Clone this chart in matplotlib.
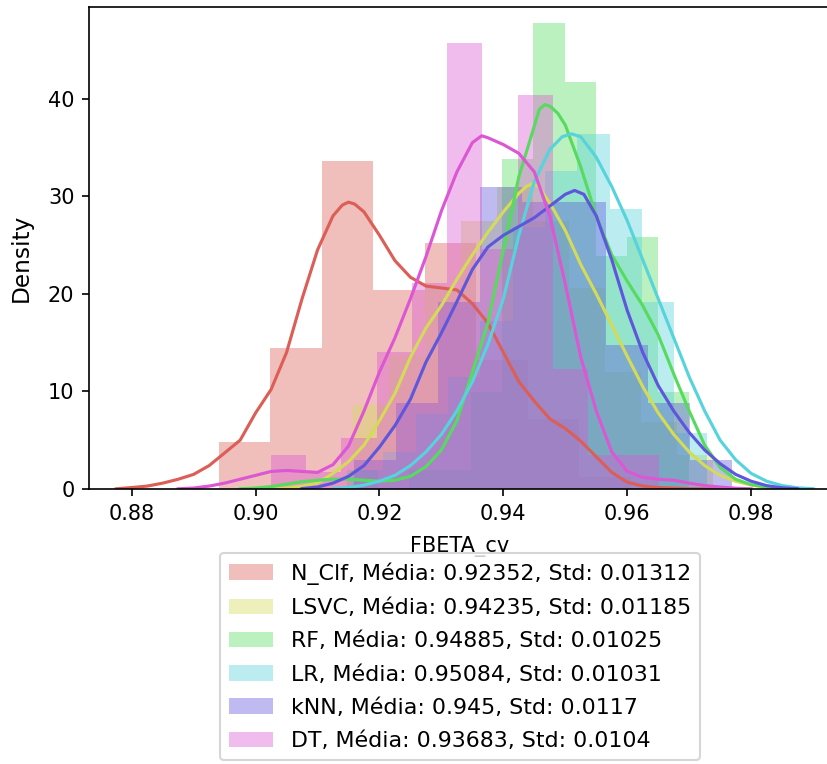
import numpy as np
import matplotlib
matplotlib.use("Agg")
import matplotlib.pyplot as plt

# F-beta scores from cross-validation, 100 folds per model
N_FOLDS = 100

models = ["N_Clf", "LSVC", "RF", "LR", "kNN", "DT"]
means = ["0.92352", "0.94235", "0.94885", "0.95084", "0.945", "0.93683"]
stds = ["0.01312", "0.01185", "0.01025", "0.01031", "0.0117", "0.0104"]

# histogram bins (first edge, bin width) and fold counts per bin
nclf_bins = (0.89405, 0.00832)
nclf_counts = [4, 12, 28, 17, 21, 11, 6, 1]
lsvc_bins = (0.9157, 0.00582)
lsvc_counts = [5, 8, 12, 16, 18, 16, 12, 7, 4, 2]
rf_bins = (0.91468, 0.00503)
rf_counts = [1, 0, 1, 1, 5, 17, 24, 21, 12, 13, 5]
lr_bins = (0.91538, 0.00522)
lr_counts = [1, 2, 4, 6, 9, 14, 17, 19, 15, 10, 3]
knn_bins = (0.91586, 0.00679)
knn_counts = [2, 6, 13, 21, 20, 20, 10, 6, 2]
dt_bins = (0.90246, 0.00569)
dt_counts = [2, 1, 3, 8, 12, 26, 14, 23, 7, 2, 2]

# kernel density curves (score, density)
nclf_kde_x = [0.8775, 0.880, 0.8825, 0.885, 0.8875, 0.890, 0.8925, 0.895, 0.8975, 0.900,
              0.9025, 0.905, 0.9075, 0.910, 0.9125, 0.9140, 0.915, 0.916, 0.9175, 0.920,
              0.9225, 0.925, 0.9275, 0.930, 0.9325, 0.935, 0.9375, 0.940, 0.9425, 0.945,
              0.9475, 0.950, 0.9525, 0.955, 0.9575, 0.960, 0.9625, 0.965, 0.970, 0.975]
nclf_kde_y = [0.02, 0.15, 0.3, 0.6, 1.0, 1.5, 2.4, 3.7, 5.0, 7.8,
              10.2, 14.0, 19.5, 24.5, 28.0, 29.1, 29.4, 29.2, 28.4, 26.0,
              23.4, 21.7, 20.8, 20.6, 20.4, 19.0, 17.0, 14.0, 11.0, 9.0,
              7.2, 6.2, 4.9, 3.3, 1.7, 0.7, 0.3, 0.15, 0.03, 0.0]

lsvc_kde_x = [0.9025, 0.905, 0.9075, 0.910, 0.9125, 0.915, 0.9175, 0.920, 0.9225, 0.925,
              0.9275, 0.930, 0.9325, 0.935, 0.9375, 0.940, 0.9425, 0.9437, 0.9447, 0.9457,
              0.9475, 0.950, 0.9525, 0.955, 0.9575, 0.960, 0.9625, 0.965, 0.9675, 0.970,
              0.9725, 0.975, 0.9775, 0.980, 0.9825, 0.985]
lsvc_kde_y = [0.02, 0.1, 0.3, 0.6, 1.6, 2.8, 4.5, 7.0, 9.8, 13.5,
              16.5, 18.8, 21.5, 24.0, 26.3, 28.4, 30.3, 31.0, 31.3, 31.0,
              29.3, 26.5, 23.0, 20.0, 16.8, 13.6, 10.5, 7.8, 5.6, 3.8,
              2.4, 1.4, 0.8, 0.4, 0.15, 0.05]

rf_kde_x = [0.8975, 0.900, 0.9025, 0.905, 0.9075, 0.910, 0.9125, 0.915, 0.9175, 0.920,
            0.9225, 0.925, 0.9275, 0.930, 0.9325, 0.935, 0.9375, 0.940, 0.9425, 0.945,
            0.9458, 0.9467, 0.9476, 0.9488, 0.950, 0.9525, 0.955, 0.9575, 0.960, 0.9625,
            0.965, 0.9675, 0.970, 0.9725, 0.975, 0.9775, 0.980, 0.9825, 0.985, 0.9875]
rf_kde_y = [0.02, 0.1, 0.25, 0.5, 0.75, 0.9, 1.0, 1.0, 0.9, 0.8,
            0.9, 1.3, 2.3, 4.0, 7.0, 12.0, 17.0, 24.5, 32.0, 37.2,
            38.9, 39.4, 39.2, 38.5, 37.3, 33.0, 28.0, 24.0, 21.3, 18.8,
            15.8, 11.8, 8.0, 4.5, 2.2, 1.0, 0.45, 0.2, 0.08, 0.02]

lr_kde_x = [0.9125, 0.915, 0.9175, 0.920, 0.9225, 0.925, 0.9275, 0.930, 0.9325, 0.935,
            0.9375, 0.940, 0.9425, 0.945, 0.9475, 0.9495, 0.951, 0.9525, 0.955, 0.9575,
            0.960, 0.9625, 0.965, 0.9675, 0.970, 0.9725, 0.975, 0.9775, 0.980, 0.9825,
            0.985, 0.9875, 0.990]
lr_kde_y = [0.05, 0.15, 0.4, 0.8, 1.4, 2.4, 3.8, 5.6, 8.0, 11.0,
            14.8, 19.5, 26.0, 31.5, 34.8, 36.1, 36.4, 36.1, 34.0, 31.0,
            27.5, 23.5, 19.5, 15.5, 11.5, 8.0, 5.0, 3.0, 1.6, 0.8,
            0.35, 0.12, 0.03]

knn_kde_x = [0.9075, 0.910, 0.9125, 0.915, 0.9175, 0.920, 0.9225, 0.925, 0.9275, 0.930,
             0.9325, 0.935, 0.9375, 0.940, 0.9425, 0.945, 0.9475, 0.950, 0.9515, 0.9530,
             0.955, 0.9575, 0.960, 0.9625, 0.965, 0.9675, 0.970, 0.9725, 0.975, 0.9775,
             0.980, 0.9825, 0.985, 0.9875]
knn_kde_y = [0.05, 0.2, 0.6, 1.3, 2.4, 4.3, 6.5, 9.2, 13.0, 16.0,
             19.2, 22.5, 24.8, 26.0, 26.9, 27.8, 29.0, 30.2, 30.6, 30.2,
             28.0, 23.5, 18.3, 14.0, 10.6, 8.0, 5.8, 4.0, 2.6, 1.5,
             0.8, 0.35, 0.12, 0.03]

dt_kde_x = [0.8875, 0.890, 0.8925, 0.895, 0.8975, 0.900, 0.9025, 0.905, 0.9075, 0.910,
            0.9125, 0.915, 0.9175, 0.920, 0.9225, 0.925, 0.9275, 0.930, 0.9325, 0.935,
            0.9365, 0.9375, 0.940, 0.9425, 0.945, 0.9475, 0.950, 0.9525, 0.955, 0.9575,
            0.960, 0.9625, 0.965, 0.9675, 0.970, 0.9725, 0.975, 0.9775, 0.980]
dt_kde_y = [0.02, 0.1, 0.3, 0.6, 1.0, 1.4, 1.8, 1.9, 1.8, 1.7,
            2.5, 4.4, 8.0, 12.0, 15.5, 19.5, 23.8, 28.5, 32.5, 35.5,
            36.2, 36.0, 35.3, 34.4, 32.5, 28.0, 21.0, 13.5, 8.0, 3.8,
            1.8, 1.2, 1.0, 0.9, 0.6, 0.35, 0.2, 0.08, 0.02]

# seaborn "hls" palette, 6 colours
colors = [(0.86, 0.3712, 0.34), (0.8288, 0.86, 0.34), (0.34, 0.86, 0.3712),
          (0.34, 0.8288, 0.86), (0.3712, 0.34, 0.86), (0.86, 0.34, 0.8288)]

bins = [nclf_bins, lsvc_bins, rf_bins, lr_bins, knn_bins, dt_bins]
counts = [nclf_counts, lsvc_counts, rf_counts, lr_counts, knn_counts, dt_counts]
kdes = [(nclf_kde_x, nclf_kde_y), (lsvc_kde_x, lsvc_kde_y), (rf_kde_x, rf_kde_y),
        (lr_kde_x, lr_kde_y), (knn_kde_x, knn_kde_y), (dt_kde_x, dt_kde_y)]

fig = plt.figure(figsize=(827 / 150, 764 / 150), dpi=150)
ax = fig.add_axes([89 / 827, 275 / 764, 742 / 827, 482 / 764])

for i, name in enumerate(models):
    start, width = bins[i]
    c = np.array(counts[i], dtype=float)
    edges = start + width * np.arange(len(c) + 1)
    centers = (edges[:-1] + edges[1:]) / 2
    label = f"{name}, Média: {means[i]}, Std: {stds[i]}"
    ax.hist(centers, bins=edges, weights=c, density=True,
            color=colors[i], alpha=0.4, label=label)
    kx, ky = kdes[i]
    ax.plot(kx, ky, color=colors[i], lw=1.5)

ax.set_xlim(0.8731, 0.9929)
ax.set_ylim(0, 49.4)
ax.set_xticks([0.88, 0.90, 0.92, 0.94, 0.96, 0.98])
ax.set_xticklabels(["0.88", "0.90", "0.92", "0.94", "0.96", "0.98"])
ax.set_yticks([0, 10, 20, 30, 40])
ax.set_xlabel("FBETA_cv", labelpad=6)
ax.set_ylabel("Density", fontsize=11.2)
ax.yaxis.set_label_coords(-0.076, 0.48)

ax.legend(loc="upper center", bbox_to_anchor=(460 / 827, 211 / 764),
          bbox_transform=fig.transFigure, borderaxespad=0,
          fontsize=10.6, labelspacing=0.6, borderpad=0.42)

fig.savefig("out.png", dpi=150)
